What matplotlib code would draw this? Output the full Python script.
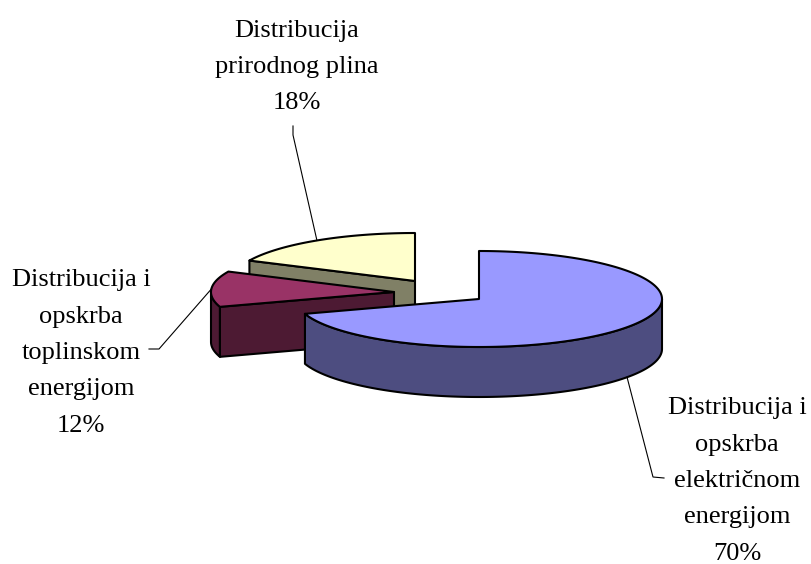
import numpy as np
import matplotlib
matplotlib.use('Agg')
import matplotlib.pyplot as plt
from matplotlib.patches import Polygon

plt.rcParams['font.family'] = ['Liberation Serif', 'DejaVu Serif']

# udjeli u postocima
labels = ['Distribucija i\nopskrba\nelektričnom\nenergijom\n70%',
          'Distribucija i\nopskrba\ntoplinskom\nenergijom\n12%',
          'Distribucija\nprirodnog plina\n18%']
shares = [70, 12, 18]
top_colors = ['#9999FF', '#993366', '#FFFFCC']
side_colors = ['#4D4D80', '#4D1A33', '#808066']

# polozaj svakog isjecka (eksplodirani pie)
centers_x = [479, 394, 415]
centers_y = [299, 292, 281]
label_x = [737, 81, 297]
label_y = [481, 353, 67]
elbow_x = [[653, 664], [159, 149], [293, 293]]
elbow_y = [[477, 478], [349, 349], [135, 126]]

rx = 183
ry = 48
depth = 50
edge = 1.5


def rim(cx, cy, a0, a1):
    # kut se mjeri od vrha, u smjeru kazaljke na satu
    t = np.radians(np.linspace(a0, a1, max(int(abs(a1 - a0)), 2)))
    return np.column_stack([cx + rx * np.sin(t), cy - ry * np.cos(t)])


fig = plt.figure(figsize=(8.11, 5.64), dpi=100)
ax = fig.add_axes([0, 0, 1, 1])
ax.set_xlim(0, 811)
ax.set_ylim(564, 0)
ax.axis('off')

ends = np.cumsum(shares) * 3.6
starts = ends - np.array(shares) * 3.6

# crta se od straznjeg prema prednjem isjecku
for i in [2, 1, 0]:
    cx, cy = centers_x[i], centers_y[i]
    a0, a1 = starts[i], ends[i]
    down = np.array([0, depth])
    tip = np.array([cx, cy])

    # vanjski rub, vidljiv samo na prednjoj strani
    lo, hi = max(a0, 90), min(a1, 270)
    if lo < hi:
        arc = rim(cx, cy, lo, hi)
        side = np.vstack([arc, (arc + down)[::-1]])
        ax.add_patch(Polygon(side, closed=True, fc=side_colors[i], ec='black', lw=edge, joinstyle='round'))

    # rez od pocetka isjecka prema sredini
    if i > 0:
        p = rim(cx, cy, a0, a0 + 1)[0]
        cut = np.array([p, tip, tip + down, p + down])
        ax.add_patch(Polygon(cut, closed=True, fc=side_colors[i], ec='black', lw=edge, joinstyle='round'))

    top = np.vstack([tip, rim(cx, cy, a0, a1)])
    ax.add_patch(Polygon(top, closed=True, fc=top_colors[i], ec='black', lw=edge, joinstyle='round'))

    # linija do oznake, polazi od sredine luka
    mid = (a0 + a1) / 2
    start = rim(cx, cy, mid, mid + 1)[0]
    if 90 < mid < 270:
        start = start + down
    ax.plot([start[0]] + elbow_x[i], [start[1]] + elbow_y[i], color='black', lw=0.8)

    ax.text(label_x[i], label_y[i], labels[i], ha='center', va='center',
            fontsize=19, linespacing=1.85, color='black')

fig.savefig('out.png', dpi=100)
